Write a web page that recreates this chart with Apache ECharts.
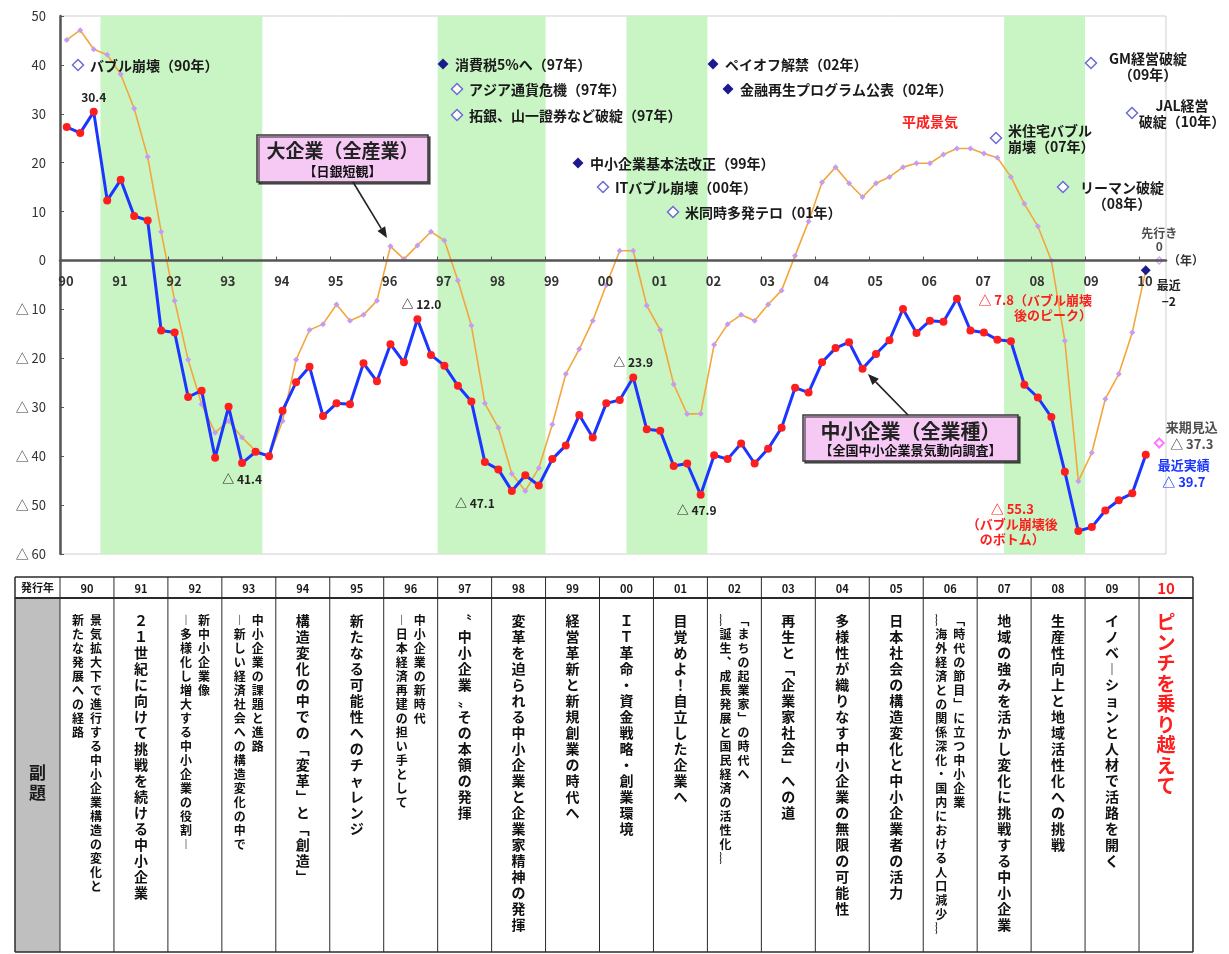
<!DOCTYPE html>
<html lang="ja">
<head>
<meta charset="utf-8">
<title>中小企業と大企業の業況判断DIの推移と中小企業白書の副題</title>
<script src="https://cdn.jsdelivr.net/npm/echarts@6/dist/echarts.min.js"></script>
<style>
  html, body { margin: 0; padding: 0; background: #fff; }
  #c { width: 1229px; height: 954px; }
</style>
</head>
<body>
<div id="c"></div>
<script>
// 四半期データ（1990年1-3月期 = 0 番目）
const startYear = 1990;

// 中小企業（全業種）業況判断DI【全国中小企業景気動向調査】
const smeDI = [
  27.3, 26.1, 30.4, 12.3, 16.5, 9.1, 8.2,
  -14.3, -14.7, -27.9, -26.6, -40.3, -29.9, -41.4, -39.1, -40.0,
  -30.7, -24.9, -21.7, -31.8, -29.2, -29.4, -21.0, -24.7,
  -17.1, -20.8, -12.0, -19.3, -21.5, -25.6, -28.8, -41.2,
  -42.7, -47.1, -43.9, -46.0, -40.6, -37.8, -31.6, -36.2,
  -29.2, -28.5, -23.9, -34.5, -34.8, -42.0, -41.5, -47.9,
  -39.8, -40.6, -37.4, -41.5, -38.5, -34.2, -26.0, -27.0,
  -20.8, -17.9, -16.7, -22.1, -19.1, -16.3, -9.9, -14.8,
  -12.3, -12.5, -7.8, -14.3, -14.7, -16.2, -16.5, -25.4,
  -28.0, -32.0, -43.2, -55.3, -54.5, -51.1, -49.0, -47.6,
  -39.7
];
const smeOutlook = -37.3;   // 来期見込

// 大企業（全産業）業況判断DI【日銀短観】
const largeDI = [
  45.1, 47.1, 43.2, 42.1, 38.1, 31.1, 21.2, 5.9,
  -8.2, -20.3, -29.4, -35.2, -32.8, -36.2, -38.9, -40.1,
  -32.8, -20.3, -14.2, -13.0, -9.0, -12.3, -11.1, -8.2,
  2.9, 0.3, 3.1, 5.9, 4.1, -4.1, -13.3, -29.2,
  -34.2, -43.6, -47.1, -42.4, -33.5, -23.2, -18.1, -12.3,
  -5.0, 2.0, 2.0, -9.2, -14.2, -25.3, -31.4, -31.3,
  -17.2, -13.0, -11.1, -12.3, -9.0, -6.1, 1.0, 8.0,
  16.0, 19.1, 15.8, 13.0, 15.8, 17.1, 19.1, 19.9,
  19.9, 21.7, 22.9, 22.9, 21.9, 21.0, 17.1, 11.6,
  7.0, 0.0, -16.4, -45.1, -39.3, -28.3, -23.2, -14.7,
  -2
];
const largeOutlook = 0;     // 先行き

// 景気後退期（四半期の開始・終了位置）
const recessions = [[3, 15], [28, 36], [42, 48], [70, 76]];

// 白書の発行年と副題
const yearLabels = ['90','91','92','93','94','95','96','97','98','99',
                    '00','01','02','03','04','05','06','07','08','09','10'];
const subtitles = [
  ['景気拡大下で進行する中小企業構造の変化と', '新たな発展への経路'],
  ['２１世紀に向けて挑戦を続ける中小企業'],
  ['新中小企業像', 'ー多様化し増大する中小企業の役割ー'],
  ['中小企業の課題と進路', 'ー新しい経済社会への構造変化の中で'],
  ['構造変化の中での「変革」と「創造」'],
  ['新たなる可能性へのチャレンジ'],
  ['中小企業の新時代', 'ー日本経済再建の担い手として'],
  ['〝中小企業〟その本領の発揮'],
  ['変革を迫られる中小企業と企業家精神の発揮'],
  ['経営革新と新規創業の時代へ'],
  ['ＩＴ革命・資金戦略・創業環境'],
  ['目覚めよ！自立した企業へ'],
  ['「まちの起業家」の時代へ', '〜誕生、成長発展と国民経済の活性化〜'],
  ['再生と「企業家社会」への道'],
  ['多様性が織りなす中小企業の無限の可能性'],
  ['日本社会の構造変化と中小企業者の活力'],
  ['「時代の節目」に立つ中小企業', '〜海外経済との関係深化・国内における人口減少〜'],
  ['地域の強みを活かし変化に挑戦する中小企業'],
  ['生産性向上と地域活性化への挑戦'],
  ['イノベーションと人材で活路を開く'],
  ['ピンチを乗り越えて']
];

// 主な出来事
const events = [
  { text: 'バブル崩壊（90年）', solid: false, at: [78, 65] },
  { text: '消費税5%へ（97年）', solid: true, at: [443, 64] },
  { text: 'アジア通貨危機（97年）', solid: false, at: [457, 89] },
  { text: '拓銀、山一證券など破綻（97年）', solid: false, at: [457, 115] },
  { text: '中小企業基本法改正（99年）', solid: true, at: [578, 163] },
  { text: 'ITバブル崩壊（00年）', solid: false, at: [603, 187] },
  { text: '米同時多発テロ（01年）', solid: false, at: [673, 212] },
  { text: 'ペイオフ解禁（02年）', solid: true, at: [713, 64] },
  { text: '金融再生プログラム公表（02年）', solid: true, at: [728, 89] },
  { text: '米住宅バブル\n崩壊（07年）', solid: false, at: [996, 138], textAt: [1008, 139], align: 'left' },
  { text: 'リーマン破綻\n（08年）', solid: false, at: [1063, 187], textAt: [1122, 196], align: 'center' },
  { text: 'GM経営破綻\n（09年）', solid: false, at: [1091, 63], textAt: [1148, 67], align: 'center' },
  { text: 'JAL経営\n破綻（10年）', solid: false, at: [1132, 113], textAt: [1182, 114], align: 'center' }
];

const FONT = '"Noto Sans CJK JP", "Noto Sans", sans-serif';
const RED = '#ff1e1e';
const BLUE = '#1a36ff';

// グラフ領域
const GRID = { left: 60, top: 16, right: 63, bottom: 400 };
const CHART_H = 954;
const Y_MIN = -60, Y_MAX = 50;
// 年軸をゼロ線の位置へ上げる量
const gridHeight = CHART_H - GRID.top - GRID.bottom;
const xAxisOffset = -gridHeight * (0 - Y_MIN) / (Y_MAX - Y_MIN);

const fmt = v => (v < 0 ? '△ ' + Math.abs(v).toFixed(1) : v.toFixed(1));
const fmtInt = v => (v < 0 ? '−' + Math.abs(v) : String(v));
const qx = i => i + 0.5;

// 中小企業DIの注記（ラベル配置）
const smeNotes = {
  2:  { position: 'top', distance: 4 },
  13: { position: 'bottom', distance: 6 },
  26: { position: 'top', distance: 5, offset: [4, 0] },
  33: { position: 'bottom', distance: 3, offset: [-37, 0] },
  42: { position: 'top', distance: 5 },
  47: { position: 'bottom', distance: 6, offset: [-4, 0] },
  66: { position: [139, -2], align: 'right', verticalAlign: 'top', color: RED, suffix: '（バブル崩壊\n後のピーク）', lineHeight: 15, fontSize: 13 },
  75: { position: [-62, -25], align: 'center', verticalAlign: 'top', color: RED, suffix: '\n（バブル崩壊後\nのボトム）', lineHeight: 15, fontSize: 13 },
  80: { position: [42, 6], align: 'center', verticalAlign: 'top', color: BLUE, prefix: '最近実績\n', lineHeight: 17, fontSize: 13 }
};

const baseLabel = { show: true, fontFamily: FONT, fontWeight: 'bold', fontSize: 12, color: '#222' };

const smeData = smeDI.map((v, i) => {
  const n = smeNotes[i];
  if (!n) return [qx(i), v];
  const label = Object.assign({}, baseLabel, {
    formatter: (n.prefix || '') + fmt(v) + (n.suffix || ''),
    position: n.position
  });
  ['distance', 'offset', 'align', 'verticalAlign', 'color', 'lineHeight', 'fontSize'].forEach(k => {
    if (n[k] !== undefined) label[k] = n[k];
  });
  return { value: [qx(i), v], label };
});

const largeData = largeDI.map((v, i) => {
  if (i !== largeDI.length - 1) return [qx(i), v];
  return {
    value: [qx(i), v],
    symbol: 'diamond', symbolSize: 10,
    itemStyle: { color: '#1b1b8f' },
    label: Object.assign({}, baseLabel, {
      formatter: '最近\n' + fmtInt(v), position: [28, 12],
      align: 'center', verticalAlign: 'top', lineHeight: 16, fontSize: 12
    })
  };
});

const chart = echarts.init(document.getElementById('c'));

chart.setOption({
  animation: false,
  backgroundColor: '#ffffff',
  textStyle: { fontFamily: FONT },
  grid: Object.assign({ show: true, borderColor: '#cfcfcf', borderWidth: 1 }, GRID),
  xAxis: {
    type: 'value', min: 0, max: 82, interval: 4, z: 10,
    position: 'bottom', offset: xAxisOffset,
    name: '（年）', nameLocation: 'end', nameGap: 2,
    nameTextStyle: { fontSize: 12, fontWeight: 'bold', color: '#333', fontFamily: FONT },
    axisLine: { onZero: false, lineStyle: { color: '#555', width: 2.5 } },
    axisTick: { show: true, inside: true, length: 4, lineStyle: { color: '#555', width: 1 } },
    axisLabel: {
      formatter: v => String(startYear + v / 4).slice(2),
      showMaxLabel: false, margin: 14, fontSize: 13, fontWeight: 'bold',
      color: '#333', fontFamily: FONT, padding: [0, 0, 0, 12]
    },
    splitLine: { show: false }
  },
  yAxis: {
    type: 'value', min: Y_MIN, max: Y_MAX, interval: 10, z: 10,
    axisLine: { show: true, onZero: false, lineStyle: { color: '#555', width: 2.5 } },
    axisTick: { show: true, inside: true, length: 4, lineStyle: { color: '#555' } },
    axisLabel: {
      formatter: v => (v < 0 ? '△ ' + (-v) : String(v)),
      fontSize: 13, color: '#333', margin: 14, fontFamily: FONT
    },
    splitLine: { show: false }
  },
  series: [
    {
      // 景気後退期の網掛け
      type: 'line', z: 0, silent: true,
      data: smeDI.map((v, i) => [qx(i), v]),
      symbol: 'none', lineStyle: { width: 0, opacity: 0 },
      markArea: {
        silent: true,
        itemStyle: { color: '#c8f5c3' },
        data: recessions.map(r => [{ xAxis: r[0] }, { xAxis: r[1] }])
      }
    },
    {
      name: '大企業（全産業）', type: 'line', z: 3,
      data: largeData,
      symbol: 'diamond', symbolSize: 6, showAllSymbol: true,
      lineStyle: { color: '#f3a63c', width: 1.6 },
      itemStyle: { color: '#c49cf3' }
    },
    {
      name: '中小企業（全業種）', type: 'line', z: 4,
      data: smeData,
      symbol: 'circle', symbolSize: 8, showAllSymbol: true,
      lineStyle: { color: BLUE, width: 3 },
      itemStyle: { color: RED }
    },
    {
      name: '大企業 先行き', type: 'scatter', z: 5,
      data: [[qx(largeDI.length), largeOutlook]],
      symbol: 'diamond', symbolSize: 7,
      itemStyle: { color: '#ffffff', borderColor: '#c49cf3', borderWidth: 1.5 },
      label: Object.assign({}, baseLabel, {
        formatter: p => '先行き\n' + fmtInt(p.value[1]),
        position: 'top', distance: 3, lineHeight: 13, fontSize: 12
      })
    },
    {
      name: '中小企業 来期見込', type: 'scatter', z: 5,
      data: [[qx(smeDI.length), smeOutlook]],
      symbol: 'diamond', symbolSize: 9,
      itemStyle: { color: '#ffffff', borderColor: '#ff55ff', borderWidth: 2 },
      label: Object.assign({}, baseLabel, {
        formatter: p => '来期見込\n' + fmt(p.value[1]),
        position: [38, -19], align: 'center', verticalAlign: 'top', lineHeight: 17, fontSize: 13
      })
    }
  ]
});

// ---- 注記・吹き出し・副題表 ----
const G = [];
const Z = 50;

function txt(text, x, y, opt) {
  const o = Object.assign({ size: 14, weight: 'bold', color: '#1a1a1a', align: 'left', vAlign: 'middle', lh: null }, opt || {});
  const style = {
    text, x, y, fill: o.color,
    font: o.weight + ' ' + o.size + 'px ' + FONT,
    align: o.align, verticalAlign: o.vAlign,
    textAlign: o.align, textVerticalAlign: o.vAlign
  };
  if (o.lh) style.lineHeight = o.lh;
  G.push({ type: 'text', z: Z, silent: true, style });
}
function diamond(x, y, solid, r) {
  r = r || 5.5;
  G.push({
    type: 'polygon', z: Z, silent: true,
    shape: { points: [[x, y - r], [x + r, y], [x, y + r], [x - r, y]] },
    style: solid ? { fill: '#1b1b8f' } : { fill: '#ffffff', stroke: '#6b6bd6', lineWidth: 1.5 }
  });
}
function line(x1, y1, x2, y2, w, color) {
  G.push({ type: 'line', z: Z, silent: true, shape: { x1, y1, x2, y2 }, style: { stroke: color || '#2a2a2a', lineWidth: w } });
}
function arrow(x1, y1, x2, y2) {
  const a = Math.atan2(y2 - y1, x2 - x1), L = 11, W = 4.5;
  const bx = x2 - L * Math.cos(a), by = y2 - L * Math.sin(a);
  line(x1, y1, bx, by, 1.6, '#222');
  G.push({
    type: 'polygon', z: Z, silent: true,
    shape: { points: [[x2, y2], [bx + W * Math.sin(a), by - W * Math.cos(a)], [bx - W * Math.sin(a), by + W * Math.cos(a)]] },
    style: { fill: '#222' }
  });
}
function callout(x, y, w, h, title, sub, tSize, sSize) {
  G.push({
    type: 'rect', z: Z, silent: true,
    shape: { x, y, width: w, height: h },
    style: { fill: '#f6c9f4', stroke: '#3a3a3a', lineWidth: 1.5, shadowColor: 'rgba(0,0,0,0.55)', shadowOffsetX: 2, shadowOffsetY: 2, shadowBlur: 0 }
  });
  txt(title, x + w / 2, y + 16, { size: tSize, align: 'center', color: '#222' });
  txt(sub, x + w / 2, y + h - 11, { size: sSize, align: 'center', color: '#111' });
}

// 出来事
events.forEach(e => {
  diamond(e.at[0], e.at[1], e.solid);
  if (e.textAt) {
    txt(e.text, e.textAt[0], e.textAt[1], { align: e.align, lh: 16 });
  } else {
    txt(e.text, e.at[0] + 12, e.at[1] + 1);
  }
});
txt('平成景気', 930, 122, { align: 'center', color: RED });

// 吹き出し
callout(257, 135, 171, 47, '大企業（全産業）', '【日銀短観】', 19, 13);
arrow(353, 182, 387, 238);
callout(803, 415, 215, 46, '中小企業（全業種）', '【全国中小企業景気動向調査】', 20, 13);
arrow(908, 415, 868, 374);

// 副題の表（列は年軸と同じ位置）
const VERT = { '「': '﹁', '」': '﹂', 'ー': '︱', '〜': '︴', '、': '︑' };
const vert = s => Array.from(s).map(c => VERT[c] || c).join('\n');

const xs = yearLabels.map((_, k) => chart.convertToPixel({ xAxisIndex: 0 }, k * 4));
xs.push(chart.convertToPixel({ xAxisIndex: 0 }, yearLabels.length * 4));
const tTop = 577, tHead = 598, tBottom = 952, tLeft = 15, tRight = xs[xs.length - 1];

G.push({ type: 'rect', z: Z - 1, silent: true, shape: { x: tLeft, y: tHead, width: xs[0] - tLeft, height: tBottom - tHead }, style: { fill: '#bfbfbf' } });
line(tLeft, tTop, tRight, tTop, 1.5);
line(tLeft, tHead, tRight, tHead, 2);
line(tLeft, tBottom, tRight, tBottom, 1.5);
line(tLeft, tTop, tLeft, tBottom, 1.5);
xs.forEach((x, k) => line(x, tTop, x, tBottom, k === xs.length - 1 ? 1.5 : 1));

txt('発行年', (tLeft + xs[0]) / 2, (tTop + tHead) / 2, { size: 11, align: 'center' });
txt('副\n題', (tLeft + xs[0]) / 2, 783, { size: 17, align: 'center', lh: 20 });

yearLabels.forEach((lab, k) => {
  const cx = (xs[k] + xs[k + 1]) / 2;
  const last = k === yearLabels.length - 1;
  txt(lab, cx, (tTop + tHead) / 2 + 1, last ? { size: 15, align: 'center', color: RED } : { size: 11, align: 'center' });
  const lines = subtitles[k];
  if (last) {
    txt(vert(lines[0]), cx, 612, { size: 19, align: 'center', vAlign: 'top', lh: 20.5, color: RED });
  } else if (lines.length === 1) {
    txt(vert(lines[0]), cx, 613, { size: 14, align: 'center', vAlign: 'top', lh: 16, color: '#111' });
  } else {
    txt(vert(lines[0]), cx + 9, 613, { size: 12, align: 'center', vAlign: 'top', lh: 14, color: '#111' });
    txt(vert(lines[1]), cx - 9, 613, { size: 12, align: 'center', vAlign: 'top', lh: 14, color: '#111' });
  }
});

chart.setOption({ graphic: { elements: G } });
</script>
</body>
</html>
